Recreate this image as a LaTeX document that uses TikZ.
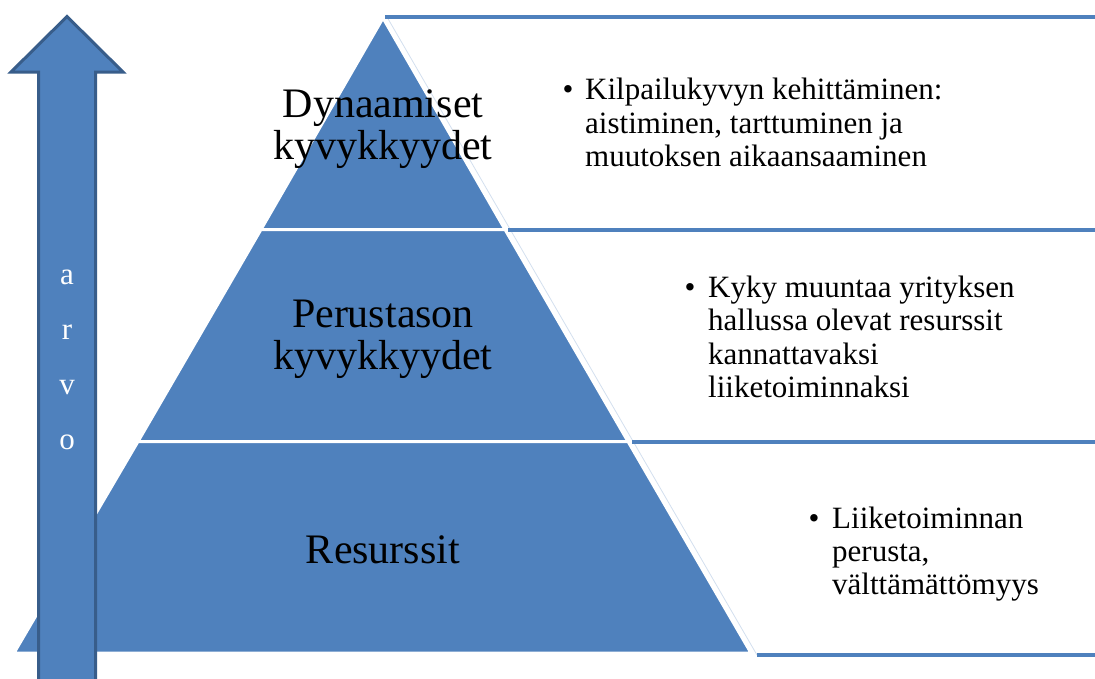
\documentclass[tikz,border=0pt]{standalone}
\usepackage{fontspec}
\setmainfont{Liberation Serif}
\definecolor{pblue}{HTML}{4F81BD}
\definecolor{pdark}{HTML}{385D8A}
\begin{document}
\begin{tikzpicture}[x=1pt,y=-1pt,
  layer/.style={fill=pblue,draw=white,line width=3pt,line join=miter},
  rule/.style={draw=pblue,line width=4pt},
  faint/.style={draw=pblue!25,line width=0.8pt},
  title/.style={font=\fontsize{42}{48}\selectfont,anchor=base,inner sep=0pt},
  body/.style={font=\fontsize{31}{34}\selectfont,anchor=base west,inner sep=0pt},
  bulletmark/.style={font=\fontsize{31}{34}\selectfont,anchor=base,inner sep=0pt},
  arrowletter/.style={font=\fontsize{31}{34}\selectfont,text=white,anchor=base,inner sep=0pt},
  bigarrow/.style={fill=pblue,draw=pdark,line width=3pt,line join=miter}]
\useasboundingbox (0,0) rectangle (1095,678);
\clip (0,0) rectangle (1095,678);
% pyramid corners
\coordinate (apex) at (383,18);
\coordinate (l1) at (261,229.5);
\coordinate (r1) at (505,229.5);
\coordinate (l2) at (138,441.5);
\coordinate (r2) at (628,441.5);
\coordinate (l3) at (14,653);
\coordinate (r3) at (751,653);
% layers
\draw[layer] (apex) -- (r1) -- (l1) -- cycle;
\draw[layer] (l1) -- (r1) -- (r2) -- (l2) -- cycle;
\draw[layer] (l2) -- (r2) -- (r3) -- (l3) -- cycle;
% faint outer edge
\coordinate (f0) at (387,17);
\coordinate (f1) at (757,655);
\draw[faint] (f0) -- (f1);
% right rules
\coordinate (h0a) at (385,17);   \coordinate (h0b) at (1095,17);
\coordinate (h1a) at (508,229.5); \coordinate (h1b) at (1095,229.5);
\coordinate (h2a) at (632,441.5); \coordinate (h2b) at (1095,441.5);
\coordinate (h3a) at (757,655);  \coordinate (h3b) at (1095,655);
\draw[rule] (h0a) -- (h0b);
\draw[rule] (h1a) -- (h1b);
\draw[rule] (h2a) -- (h2b);
\draw[rule] (h3a) -- (h3b);
% titles
\node[title] (d1) at (383,117) {Dynaamiset};
\node[title] (d2) at (383,159) {kyvykkyydet};
\node[title] (p1) at (383,327) {Perustason};
\node[title] (p2) at (383,369) {kyvykkyydet};
\node[title] (r) at (383,563) {Resurssit};
% bullets
\node[bulletmark] (b1) at (568,99) {•};
\node[body] (t1a) at (585,99) {Kilpailukyvyn kehittäminen:};
\node[body] (t1b) at (585,133) {aistiminen, tarttuminen ja};
\node[body] (t1c) at (585,166) {muutoksen aikaansaaminen};
\node[bulletmark] (b2) at (690,297) {•};
\node[body] (t2a) at (708,297) {Kyky muuntaa yrityksen};
\node[body] (t2b) at (708,330) {hallussa olevat resurssit};
\node[body] (t2c) at (708,364) {kannattavaksi};
\node[body] (t2d) at (708,397) {liiketoiminnaksi};
\node[bulletmark] (b3) at (814,528) {•};
\node[body] (t3a) at (832,528) {Liiketoiminnan};
\node[body] (t3b) at (832,561) {perusta,};
\node[body] (t3c) at (832,594) {välttämättömyys};
% value arrow
\draw[bigarrow] (67,16.5) -- (123,72) -- (95.5,72) -- (95.5,700) -- (38.5,700) -- (38.5,72) -- (11,72) -- cycle;
\node[arrowletter] (va) at (67,284) {a};
\node[arrowletter] (vr) at (67,339) {r};
\node[arrowletter] (vv) at (67,394) {v};
\node[arrowletter] (vo) at (67,449) {o};
\end{tikzpicture}
\end{document}
